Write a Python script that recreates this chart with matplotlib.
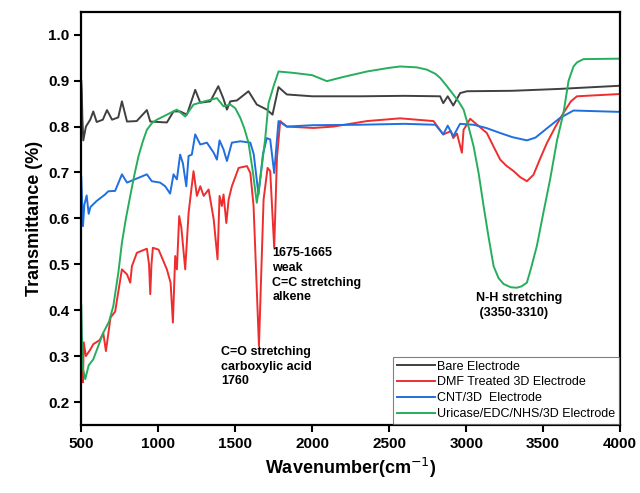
"""FTIR spectra of the electrode at each modification step."""

import matplotlib
matplotlib.use("Agg")
import matplotlib.pyplot as plt

plt.rcParams["font.family"] = ["Liberation Sans", "DejaVu Sans"]

# --------------------------------------------------------------------------------------
# Spectra (wavenumber, transmittance)
# --------------------------------------------------------------------------------------
bare_x = [500, 503, 507, 513, 530, 558, 578, 600, 640, 667, 700, 740, 764, 797, 860,
          926, 948, 1000, 1056, 1099, 1142, 1186, 1240, 1273, 1338, 1390, 1422, 1446,
          1468, 1511, 1586, 1640, 1705, 1742, 1781, 1835, 2000, 2312, 2600, 2831, 2851,
          2880, 2916, 2961, 3005, 3300, 3600, 4000]
bare_y = [0.90, 0.88, 0.82, 0.77, 0.80, 0.815, 0.833, 0.81, 0.815, 0.836, 0.815, 0.82,
          0.855, 0.811, 0.812, 0.836, 0.811, 0.81, 0.809, 0.833, 0.833, 0.826, 0.880,
          0.852, 0.855, 0.888, 0.862, 0.837, 0.855, 0.857, 0.877, 0.848, 0.837, 0.826,
          0.886, 0.870, 0.866, 0.866, 0.867, 0.866, 0.851, 0.866, 0.846, 0.873, 0.877,
          0.878, 0.882, 0.889]

dmf_x = [500, 505, 511, 516, 530, 560, 578, 620, 643, 660, 690, 720, 764, 797, 818,
         829, 861, 926, 940, 948, 956, 965, 1002, 1056, 1080, 1095, 1110, 1121, 1136,
         1150, 1175, 1197, 1229, 1251, 1273, 1295, 1327, 1360, 1385, 1398, 1413, 1424,
         1442, 1457, 1478, 1522, 1576, 1598, 1619, 1654, 1684, 1710, 1727, 1753, 1771,
         1792, 1835, 2008, 2137, 2355, 2571, 2788, 2851, 2900, 2916, 2940, 2972, 2983,
         3026, 3134, 3180, 3221, 3260, 3308, 3350, 3394, 3437, 3480, 3524, 3580, 3632,
         3680, 3719, 4000]
dmf_y = [0.29, 0.27, 0.243, 0.33, 0.30, 0.315, 0.326, 0.335, 0.35, 0.311, 0.384, 0.397,
         0.489, 0.478, 0.46, 0.496, 0.525, 0.534, 0.50, 0.435, 0.50, 0.536, 0.532, 0.489,
         0.46, 0.373, 0.518, 0.489, 0.605, 0.58, 0.489, 0.612, 0.703, 0.649, 0.67, 0.649,
         0.663, 0.598, 0.511, 0.649, 0.627, 0.652, 0.59, 0.641, 0.67, 0.71, 0.714, 0.699,
         0.627, 0.322, 0.641, 0.71, 0.703, 0.536, 0.732, 0.812, 0.80, 0.797, 0.80, 0.812,
         0.818, 0.812, 0.783, 0.79, 0.775, 0.785, 0.743, 0.793, 0.817, 0.786, 0.755,
         0.728, 0.715, 0.703, 0.69, 0.681, 0.695, 0.73, 0.764, 0.80, 0.830, 0.855, 0.866,
         0.871]

cnt_x = [500, 503, 511, 520, 535, 548, 560, 600, 654, 675, 720, 764, 797, 926, 958,
         1012, 1045, 1077, 1099, 1121, 1142, 1160, 1182, 1197, 1218, 1240, 1273, 1316,
         1360, 1381, 1398, 1424, 1446, 1478, 1533, 1598, 1620, 1651, 1680, 1705, 1727,
         1753, 1781, 1835, 2000, 2300, 2600, 2800, 2851, 2880, 2916, 2960, 3048, 3130,
         3221, 3300, 3394, 3450, 3520, 3610, 3697, 4000]
cnt_y = [0.69, 0.66, 0.583, 0.63, 0.65, 0.61, 0.625, 0.638, 0.652, 0.659, 0.66, 0.696,
         0.678, 0.696, 0.681, 0.678, 0.67, 0.654, 0.696, 0.685, 0.739, 0.72, 0.67, 0.736,
         0.739, 0.783, 0.761, 0.765, 0.743, 0.728, 0.77, 0.75, 0.725, 0.765, 0.768,
         0.765, 0.74, 0.652, 0.74, 0.775, 0.772, 0.699, 0.812, 0.80, 0.803, 0.804,
         0.806, 0.804, 0.783, 0.802, 0.779, 0.806, 0.804, 0.797, 0.786, 0.777, 0.770,
         0.776, 0.795, 0.819, 0.835, 0.832]

uri_x = [500, 505, 511, 526, 548, 578, 643, 680, 708, 740, 764, 790, 818, 845, 872, 900,
         926, 960, 991, 1056, 1121, 1175, 1229, 1300, 1381, 1424, 1468, 1500, 1533, 1560,
         1586, 1615, 1640, 1662, 1694, 1716, 1749, 1781, 1878, 2000, 2095, 2200, 2355,
         2500, 2571, 2680, 2745, 2800, 2831, 2870, 2916, 2950, 2983, 3015, 3048, 3080,
         3113, 3145, 3178, 3210, 3243, 3290, 3329, 3360, 3394, 3420, 3459, 3500, 3545,
         3590, 3632, 3665, 3697, 3720, 3762, 4000]
uri_y = [0.41, 0.33, 0.272, 0.25, 0.28, 0.293, 0.351, 0.375, 0.409, 0.48, 0.547, 0.60,
         0.649, 0.695, 0.736, 0.768, 0.793, 0.808, 0.815, 0.826, 0.837, 0.822, 0.848,
         0.855, 0.862, 0.844, 0.848, 0.840, 0.819, 0.795, 0.765, 0.70, 0.634, 0.685,
         0.772, 0.851, 0.888, 0.920, 0.917, 0.912, 0.899, 0.908, 0.920, 0.928, 0.931,
         0.929, 0.924, 0.915, 0.906, 0.89, 0.870, 0.855, 0.837, 0.80, 0.757, 0.70, 0.627,
         0.56, 0.496, 0.47, 0.457, 0.45, 0.449, 0.452, 0.46, 0.49, 0.54, 0.61, 0.685,
         0.77, 0.830, 0.90, 0.931, 0.94, 0.947, 0.948]

series = [
    (bare_x, bare_y, "Bare Electrode", "#404040"),
    (dmf_x, dmf_y, "DMF Treated 3D Electrode", "#ee2e2e"),
    (cnt_x, cnt_y, "CNT/3D  Electrode", "#1f6fe0"),
    (uri_x, uri_y, "Uricase/EDC/NHS/3D Electrode", "#27ae5c"),
]

# --------------------------------------------------------------------------------------
# Figure
# --------------------------------------------------------------------------------------
fig = plt.figure(figsize=(6.4, 4.93), dpi=100)
ax = fig.add_axes([0.127, 0.138, 0.842, 0.838])

for x, y, label, color in series:
    ax.plot(x, y, color=color, lw=1.4, label=label)

ax.set_xlim(500, 4000)
ax.set_ylim(0.15, 1.05)
ax.set_xticks(range(500, 4001, 500))
ax.set_yticks([0.2, 0.3, 0.4, 0.5, 0.6, 0.7, 0.8, 0.9, 1.0])
ax.tick_params(direction="out", length=5, width=1.5, labelsize=11)
for lab in ax.get_xticklabels() + ax.get_yticklabels():
    lab.set_fontweight("bold")
for sp in ax.spines.values():
    sp.set_linewidth(1.6)

ax.set_xlabel(r"Wavenumber(cm$^{-1}$)", fontsize=13, fontweight="bold")
ax.set_ylabel("Transmittance (%)", fontsize=13, fontweight="bold")

note = dict(fontsize=9, fontweight="bold", va="top", ha="left", linespacing=1.3)
ax.text(1740, 0.537, "1675-1665\nweak\nC=C stretching\nalkene", **note)
ax.text(1409, 0.322, "C=O stretching\ncarboxylic acid\n1760", **note)
ax.text(3065, 0.44, "N-H stretching\n (3350-3310)", **note)

leg = ax.legend(loc="lower right", fontsize=9, fancybox=False, edgecolor="#606060",
                handlelength=3.0, handletextpad=0.2, labelspacing=0.3,
                borderpad=0.3, borderaxespad=0.1)
leg.get_frame().set_linewidth(0.8)

fig.savefig("out.png", dpi=100)
